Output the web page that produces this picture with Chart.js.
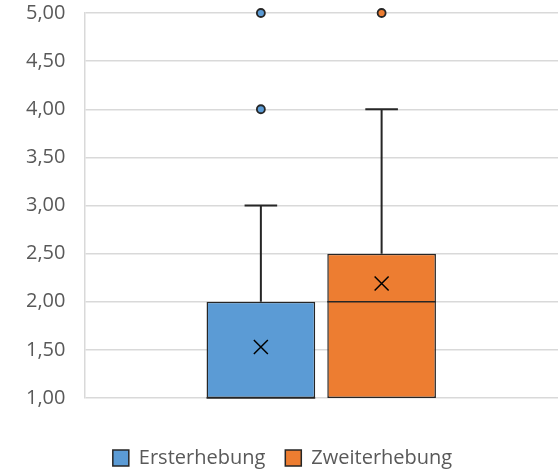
<!DOCTYPE html>
<html>
<head>
<meta charset="utf-8">
<script src="https://cdn.jsdelivr.net/npm/chart.js@4/dist/chart.umd.min.js"></script>
<style>
  html, body { margin: 0; padding: 0; background: #fff; }
  #wrap { width: 558px; height: 469px; }
</style>
</head>
<body>
<div id="wrap"><canvas id="boxChart"></canvas></div>
<script>
// ===== DATA =====
var seriesNames = ['Ersterhebung', 'Zweiterhebung'];
var seriesColors = ['#5B9BD5', '#ED7D31'];
var whiskerMin = [1.00, 1.00];
var q1 = [1.00, 1.00];
var median = [1.00, 2.00];
var q3 = [2.00, 2.50];
var whiskerMax = [3.00, 4.00];
var means = [1.53, 2.19];
var outliers = [[4.00, 5.00], [5.00]];
var yTicks = [1.00, 1.50, 2.00, 2.50, 3.00, 3.50, 4.00, 4.50, 5.00];

var FONT = "'Open Sans', sans-serif";
var LINE = '#262626';

// ===== BOX EXTRAS (whiskers, median, mean, outliers) =====
var boxPlotExtras = {
  id: 'boxPlotExtras',
  afterDatasetsDraw: function(chart) {
    var ctx = chart.ctx;
    var ys = chart.scales.y;
    for (var i = 0; i < seriesNames.length; i++) {
      var bar = chart.getDatasetMeta(i).data[0];
      var x = bar.x;
      var w = bar.width;
      var cap = w * 0.3;
      ctx.save();
      ctx.strokeStyle = LINE;
      ctx.lineWidth = 2;

      // upper whisker
      ctx.beginPath();
      ctx.moveTo(x, ys.getPixelForValue(q3[i]));
      ctx.lineTo(x, ys.getPixelForValue(whiskerMax[i]));
      ctx.moveTo(x - cap / 2, ys.getPixelForValue(whiskerMax[i]));
      ctx.lineTo(x + cap / 2, ys.getPixelForValue(whiskerMax[i]));
      ctx.stroke();

      // lower whisker
      if (whiskerMin[i] < q1[i]) {
        ctx.beginPath();
        ctx.moveTo(x, ys.getPixelForValue(q1[i]));
        ctx.lineTo(x, ys.getPixelForValue(whiskerMin[i]));
        ctx.moveTo(x - cap / 2, ys.getPixelForValue(whiskerMin[i]));
        ctx.lineTo(x + cap / 2, ys.getPixelForValue(whiskerMin[i]));
        ctx.stroke();
      }

      // median
      ctx.lineWidth = 1.5;
      ctx.beginPath();
      ctx.moveTo(x - w / 2, ys.getPixelForValue(median[i]));
      ctx.lineTo(x + w / 2, ys.getPixelForValue(median[i]));
      ctx.stroke();

      // mean marker (x)
      var my = ys.getPixelForValue(means[i]);
      var s = 7;
      ctx.strokeStyle = '#000';
      ctx.lineWidth = 1.5;
      ctx.beginPath();
      ctx.moveTo(x - s, my - s);
      ctx.lineTo(x + s, my + s);
      ctx.moveTo(x + s, my - s);
      ctx.lineTo(x - s, my + s);
      ctx.stroke();

      // outliers
      for (var k = 0; k < outliers[i].length; k++) {
        var oy = ys.getPixelForValue(outliers[i][k]);
        ctx.beginPath();
        ctx.arc(x, oy, 4, 0, Math.PI * 2);
        ctx.fillStyle = seriesColors[i];
        ctx.fill();
        ctx.lineWidth = 1.8;
        ctx.strokeStyle = LINE;
        ctx.stroke();
      }
      ctx.restore();
    }
  }
};

// ===== CHART =====
function initChart() {
  var datasets = [];
  for (var i = 0; i < seriesNames.length; i++) {
    datasets.push({
      label: seriesNames[i],
      data: [[q1[i], q3[i]]],
      backgroundColor: seriesColors[i],
      borderColor: LINE,
      borderWidth: 1.5,
      borderSkipped: false,
      barPercentage: 0.9,
      categoryPercentage: 0.51
    });
  }

  new Chart(document.getElementById('boxChart'), {
    type: 'bar',
    data: { labels: [''], datasets: datasets },
    options: {
      responsive: true,
      maintainAspectRatio: false,
      animation: false,
      layout: { padding: { top: 0, right: 0, bottom: -9, left: 7 } },
      plugins: {
        legend: {
          position: 'bottom',
          labels: {
            boxWidth: 16,
            boxHeight: 16,
            padding: 20,
            color: '#595959',
            font: { family: FONT, size: 20 }
          }
        },
        tooltip: { enabled: false }
      },
      scales: {
        x: {
          grid: { display: false },
          border: { display: false },
          ticks: { display: false },
          afterFit: function(axis) { axis.height = 30; }
        },
        y: {
          min: 1,
          max: 5,
          afterBuildTicks: function(axis) {
            axis.ticks = yTicks.map(function(v) { return { value: v }; });
          },
          afterFit: function(axis) { axis.paddingTop = 13; axis.paddingBottom = 0; },
          grid: { color: '#d9d9d9', lineWidth: 1.5, drawTicks: false },
          border: { display: true, color: '#d9d9d9', width: 1.5 },
          ticks: {
            padding: 19,
            color: '#595959',
            font: { family: FONT, size: 20 },
            callback: function(v) { return Number(v).toFixed(2).replace('.', ','); }
          }
        }
      }
    },
    plugins: [boxPlotExtras]
  });
}

window.onload = initChart;
</script>
</body>
</html>
